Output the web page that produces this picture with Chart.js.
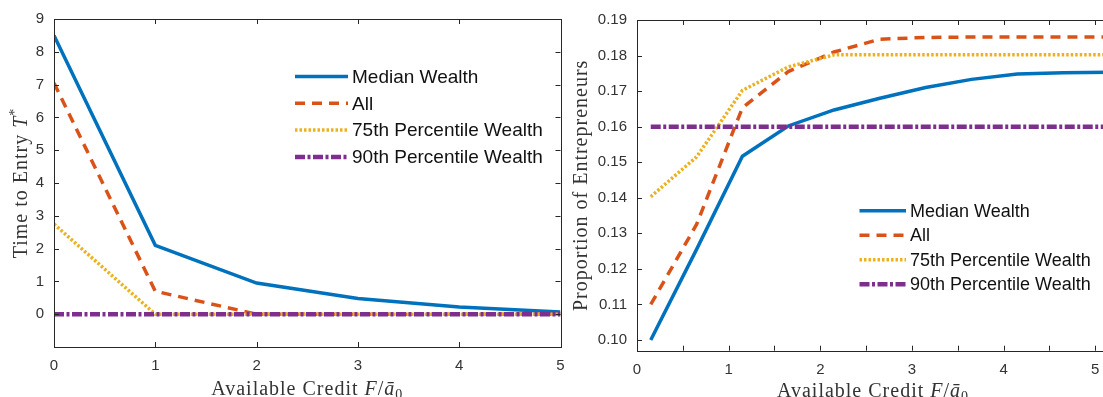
<!DOCTYPE html>
<html>
<head>
<meta charset="utf-8">
<title>Time to entry and proportion of entrepreneurs</title>
<script src="https://cdn.jsdelivr.net/npm/chart.js@4/dist/chart.umd.min.js"></script>
<style>
  html, body { margin: 0; padding: 0; background: #fff; overflow: hidden; }
  .box { position: absolute; top: 0; height: 397px; }
  #left { left: 0; width: 575px; }
  #right { left: 565px; width: 555px; }
</style>
</head>
<body>
<div class="box" id="left"><canvas id="timeChart"></canvas></div>
<div class="box" id="right"><canvas id="propChart"></canvas></div>
<script>
// left panel: time to entry T*
var creditLeft = [0, 1, 2, 3, 4, 5];
var timeMedian = [8.5, 2.1, 0.95, 0.48, 0.22, 0.07];
var timeAll = [7.05, 0.7, 0, 0, 0, 0];
var time75 = [2.75, 0, 0, 0, 0, 0];
var time90 = [0, 0, 0, 0, 0, 0];
var leftXTicks = [0, 1, 2, 3, 4, 5];
var leftYTicks = [0, 1, 2, 3, 4, 5, 6, 7, 8, 9];

// right panel: proportion of entrepreneurs
var creditRight = [0.15, 0.65, 1.15, 1.65, 2.15, 2.65, 3.15, 3.65, 4.15, 4.65, 5.15];
var propMedian = [0.100, 0.1255, 0.1517, 0.1602, 0.1647, 0.1680, 0.1710, 0.1733, 0.1748, 0.1752, 0.1753];
var propAll = [0.110, 0.1325, 0.1653, 0.1755, 0.1810, 0.1846, 0.1851, 0.1852, 0.1852, 0.1852, 0.1852];
var prop75 = [0.1403, 0.1515, 0.1702, 0.1768, 0.1802, 0.1802, 0.1802, 0.1802, 0.1802, 0.1802, 0.1802];
var prop90 = [0.16, 0.16, 0.16, 0.16, 0.16, 0.16, 0.16, 0.16, 0.16, 0.16, 0.16];
var rightXTicks = [0, 0.5, 1, 1.5, 2, 2.5, 3, 3.5, 4, 4.5, 5];
var rightYTicks = [0.10, 0.11, 0.12, 0.13, 0.14, 0.15, 0.16, 0.17, 0.18, 0.19];

var labels = ['Median Wealth', 'All', '75th Percentile Wealth', '90th Percentile Wealth'];
var styles = [
  { color: '#0072BD', width: 3.5, dash: [] },
  { color: '#D95319', width: 3.5, dash: [10, 7] },
  { color: '#EDB120', width: 3.5, dash: [2.5, 2] },
  { color: '#7E2F8E', width: 4.5, dash: [10, 2.5, 3, 2.5] }
];

function makeSets(xs, series) {
  return series.map(function(ys, i) {
    return {
      label: labels[i],
      data: xs.map(function(x, j) { return { x: x, y: ys[j] }; }),
      borderColor: styles[i].color,
      borderWidth: styles[i].width,
      borderDash: styles[i].dash,
      pointRadius: 0,
      tension: 0,
      fill: false,
      order: 4 - i
    };
  });
}

// draws a line of text built from parts (italic, sub/superscript)
function drawRich(ctx, parts, px, py, size, angle) {
  ctx.save();
  ctx.translate(px, py);
  ctx.rotate(angle);
  ctx.fillStyle = '#333';
  ctx.textBaseline = 'alphabetic';
  ctx.letterSpacing = '1px';
  var fonts = parts.map(function(p) {
    var s = (p.sub || p.sup) ? Math.round(size * 0.7) : size;
    return (p.it ? 'italic ' : '') + s + 'px "Liberation Serif"';
  });
  var widths = parts.map(function(p, i) {
    ctx.font = fonts[i];
    return ctx.measureText(p.t).width + (p.gap || 0);
  });
  var total = widths.reduce(function(a, b) { return a + b; }, 0);
  var x = -total / 2;
  parts.forEach(function(p, i) {
    ctx.font = fonts[i];
    var dy = p.sub ? size * 0.22 : (p.sup ? -size * 0.42 : 0);
    ctx.fillText(p.t, x, dy);
    x += widths[i];
  });
  ctx.restore();
}

var framePlugin = {
  id: 'frame',
  afterDraw: function(chart, args, opts) {
    var ctx = chart.ctx, a = chart.chartArea;
    var xs = chart.scales.x, ys = chart.scales.y;
    ctx.save();
    ctx.strokeStyle = '#262626';
    ctx.lineWidth = 1;
    ctx.strokeRect(Math.round(a.left) + 0.5, Math.round(a.top) + 0.5,
      Math.round(a.right - a.left), Math.round(a.bottom - a.top));
    ctx.beginPath();
    xs.ticks.forEach(function(t) {
      var p = Math.round(xs.getPixelForValue(t.value)) + 0.5;
      ctx.moveTo(p, a.bottom); ctx.lineTo(p, a.bottom - 5);
      ctx.moveTo(p, a.top); ctx.lineTo(p, a.top + 5);
    });
    ys.ticks.forEach(function(t) {
      var p = Math.round(ys.getPixelForValue(t.value)) + 0.5;
      ctx.moveTo(a.left, p); ctx.lineTo(a.left + 5, p);
      ctx.moveTo(a.right, p); ctx.lineTo(a.right - 5, p);
    });
    ctx.stroke();

    // axis titles
    drawRich(ctx, opts.xTitle, (a.left + a.right) / 2, opts.xTitleY, opts.titleSize, 0);
    drawRich(ctx, opts.yTitle, opts.yTitleX, (a.top + a.bottom) / 2, opts.titleSize, -Math.PI / 2);

    // legend inside the axes
    var lg = opts.legend;
    chart.data.datasets.forEach(function(ds, i) {
      var y = lg.y + i * lg.step;
      ctx.beginPath();
      ctx.strokeStyle = ds.borderColor;
      ctx.lineWidth = ds.borderWidth;
      ctx.setLineDash(ds.borderDash);
      ctx.moveTo(lg.x, y); ctx.lineTo(lg.x + lg.sample, y);
      ctx.stroke();
      ctx.setLineDash([]);
      ctx.fillStyle = '#111';
      ctx.font = lg.size + 'px "Liberation Sans"';
      ctx.textBaseline = 'middle';
      ctx.textAlign = 'left';
      ctx.fillText(ds.label, lg.x + lg.sample + 4, y + 1);
    });
    ctx.restore();
  }
};

function axis(min, max, tickList, fit, label) {
  return {
    type: 'linear', min: min, max: max,
    grid: { display: false, drawTicks: false },
    border: { display: false },
    afterBuildTicks: function(s) { s.ticks = tickList.map(function(v) { return { value: v }; }); },
    afterFit: fit,
    ticks: {
      color: '#333', padding: 10, maxRotation: 0, autoSkip: false,
      font: { family: 'Liberation Sans', size: 15 },
      callback: label
    }
  };
}

var xTitle = [
  { t: 'Available Credit ' },
  { t: 'F', it: true },
  { t: '/' },
  { t: '\u0101', it: true },
  { t: '0', sub: true }
];

new Chart(document.getElementById('timeChart'), {
  type: 'line',
  data: { datasets: makeSets(creditLeft, [timeMedian, timeAll, time75, time90]) },
  plugins: [framePlugin],
  options: {
    responsive: true, maintainAspectRatio: false, animation: false,
    layout: { padding: { top: 19, right: 14.5, left: 0, bottom: 0 } },
    scales: {
      x: axis(0, 5, leftXTicks, function(s) { s.height = 50; }, function(v) { return String(v); }),
      y: axis(-1, 9, leftYTicks, function(s) { s.width = 54; }, function(v) { return String(v); })
    },
    plugins: {
      legend: { display: false },
      tooltip: { enabled: false },
      frame: {
        titleSize: 20, xTitleY: 395, yTitleX: 27,
        xTitle: xTitle,
        yTitle: [{ t: 'Time to Entry ' }, { t: 'T', it: true }, { t: '*', sup: true }],
        legend: { x: 295, y: 76.5, step: 26.8, size: 19, sample: 53 }
      }
    }
  }
});

new Chart(document.getElementById('propChart'), {
  type: 'line',
  data: { datasets: makeSets(creditRight, [propMedian, propAll, prop75, prop90]) },
  plugins: [framePlugin],
  options: {
    responsive: true, maintainAspectRatio: false, animation: false,
    layout: { padding: { top: 20, right: 11, left: 0, bottom: 0 } },
    scales: {
      x: axis(0, 5.15, rightXTicks, function(s) { s.height = 46.3; },
        function(v) { return Number.isInteger(v) ? String(v) : ''; }),
      y: axis(0.097, 0.19, rightYTicks, function(s) { s.width = 72; },
        function(v) { return v.toFixed(2); })
    },
    plugins: {
      legend: { display: false },
      tooltip: { enabled: false },
      frame: {
        titleSize: 20, xTitleY: 397, yTitleX: 22,
        xTitle: xTitle,
        yTitle: [{ t: 'Proportion of Entrepreneurs' }],
        legend: { x: 294.5, y: 210.7, step: 24.5, size: 18, sample: 46.5 }
      }
    }
  }
});
</script>
</body>
</html>
